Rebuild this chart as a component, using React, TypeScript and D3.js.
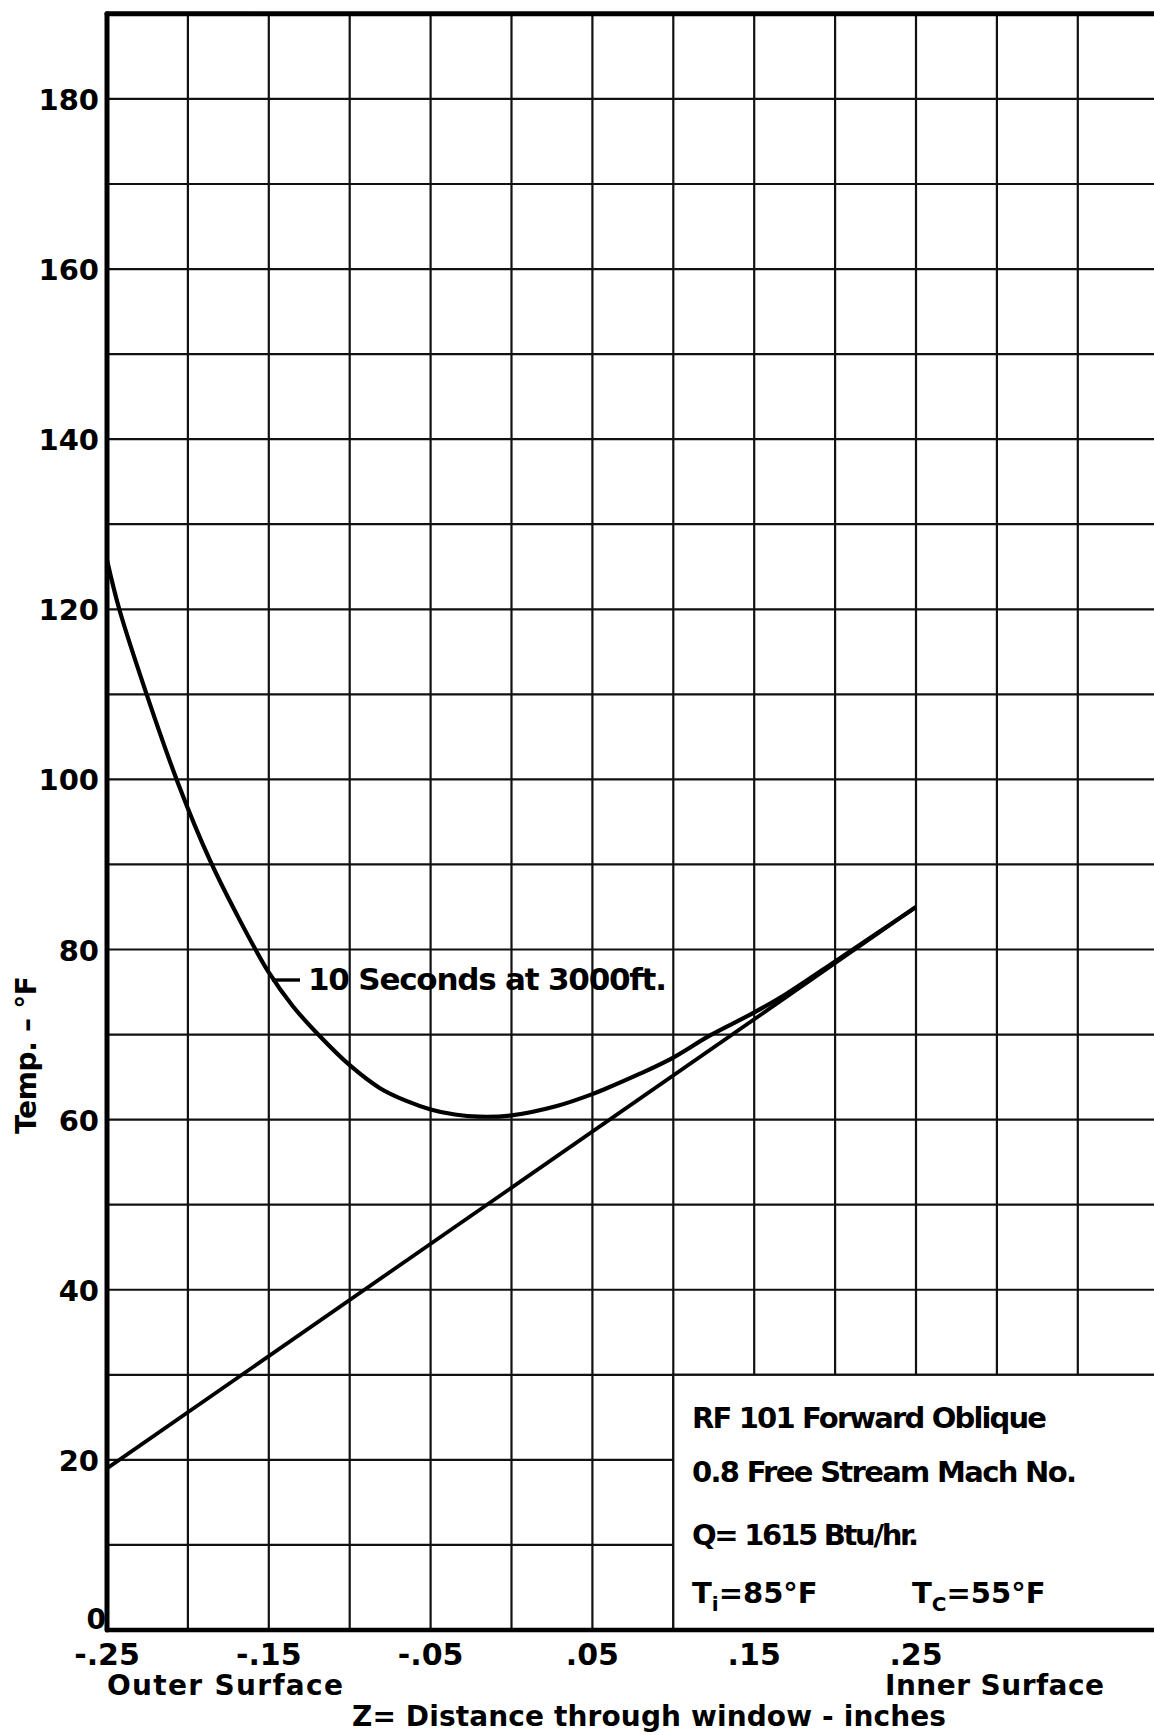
import React from "react";
import * as d3 from "d3";

// ---- data ----
const lineZ = [-0.25, 0.25];
const lineT = [19, 85];

const curveZ = [-0.25, -0.2424, -0.2255, -0.206, -0.1864, -0.17, -0.15, -0.135, -0.1184, -0.1, -0.0813, -0.065, -0.05, -0.035, -0.02, 0.0, 0.028, 0.05, 0.0578, 0.0794, 0.1, 0.1227, 0.15, 0.17, 0.2, 0.225, 0.25];
const curveT = [125.8, 120, 110, 99.5, 90.5, 84.2, 77.3, 73.3, 69.8, 66.4, 63.7, 62.2, 61.2, 60.6, 60.35, 60.5, 61.6, 63.0, 63.6, 65.4, 67.3, 69.9, 72.6, 74.8, 78.6, 81.8, 85];

const yTicks = [20, 40, 60, 80, 100, 120, 140, 160, 180];
const yTickLabels = ["20", "40", "60", "80", "100", "120", "140", "160", "180"];
const xTicks = [-0.25, -0.15, -0.05, 0.05, 0.15, 0.25];
const xTickLabels = ["-.25", "-.15", "-.05", ".05", ".15", ".25"];
const xGrid = [-0.2, -0.15, -0.1, -0.05, 0, 0.05, 0.1, 0.15, 0.2, 0.25, 0.3, 0.35];
const yGrid = [10, 20, 30, 40, 50, 60, 70, 80, 90, 100, 110, 120, 130, 140, 150, 160, 170, 180];

const curveLabel = "10 Seconds at 3000ft.";
const noteLines = ["RF 101 Forward  Oblique", "0.8 Free Stream Mach No.", "Q= 1615 Btu/hr."];

const W = 1154;
const H = 1735;
const FONT = "'DejaVu Sans', sans-serif";

export default function App() {
  const x = d3.scaleLinear().domain([-0.25, 0.4]).range([107, 107 + 0.65 * 1618]);
  const y = d3.scaleLinear().domain([0, 190]).range([1630, 1630 - 190 * 8.506]);

  const lineGen = d3
    .line<[number, number]>()
    .x((d) => x(d[0]))
    .y((d) => y(d[1]));
  const curveGen = d3
    .line<[number, number]>()
    .x((d) => x(d[0]))
    .y((d) => y(d[1]))
    .curve(d3.curveCatmullRom.alpha(0.5));

  const straight = lineZ.map((z, i) => [z, lineT[i]] as [number, number]);
  const curve = curveZ.map((z, i) => [z, curveT[i]] as [number, number]);

  const x0 = x(-0.25);
  const xR = W;
  const yTop = y(190);
  const yBot = y(0);

  return (
    <svg
      width={W}
      height={H}
      style={{ position: "absolute", left: 0, top: 0, background: "#fff" }}
      fontFamily={FONT}
    >
      <rect x={0} y={0} width={W} height={H} fill="#fff" />
      {/* grid */}
      <g stroke="#111" strokeWidth={2.2}>
        {xGrid.map((v) => (
          <line key={"vx" + v} x1={x(v)} x2={x(v)} y1={yTop} y2={yBot} />
        ))}
        {yGrid.map((v) => (
          <line key={"hy" + v} x1={x0} x2={xR} y1={y(v)} y2={y(v)} />
        ))}
      </g>
      {/* note box */}
      <rect
        x={x(0.1)}
        y={y(30)}
        width={xR - x(0.1) + 5}
        height={yBot - y(30)}
        fill="#fff"
        stroke="#111"
        strokeWidth={2.2}
      />
      {/* frame */}
      <g stroke="#000" strokeLinecap="round">
        <line x1={x0} x2={xR} y1={yTop} y2={yTop} strokeWidth={5} />
        <line x1={x0} x2={x0} y1={yTop} y2={yBot} strokeWidth={5} />
        <line x1={x0} x2={xR} y1={yBot} y2={yBot} strokeWidth={4.5} />
      </g>
      {/* data */}
      <path d={lineGen(straight) || ""} fill="none" stroke="#000" strokeWidth={3.8} />
      <path d={curveGen(curve) || ""} fill="none" stroke="#000" strokeWidth={4.2} strokeLinejoin="round" />
      {/* curve label */}
      <line x1={272} x2={300} y1={980} y2={980} stroke="#000" strokeWidth={3.4} />
      <text x={308} y={990} fontSize={31} fontWeight="bold" textLength={359} lengthAdjust="spacing">
        {curveLabel}
      </text>
      {/* y ticks */}
      <g fontSize={29} fontWeight="bold" textAnchor="end">
        {yTicks.map((v, i) => (
          <text key={"yt" + v} x={99} y={y(v) + 11}>
            {yTickLabels[i]}
          </text>
        ))}
        <text x={106} y={yBot - 1} fontSize={28}>
          0
        </text>
      </g>
      {/* x ticks */}
      <g fontSize={30} fontWeight="bold" textAnchor="middle">
        {xTicks.map((v, i) => (
          <text key={"xt" + v} x={x(v)} y={1665}>
            {xTickLabels[i]}
          </text>
        ))}
      </g>
      {/* axis titles */}
      <g fontWeight="bold" fontSize={28}>
        <text x={107} y={1695} textLength={236} lengthAdjust="spacing">
          Outer Surface
        </text>
        <text x={885} y={1695} textLength={219} lengthAdjust="spacing">
          Inner Surface
        </text>
        <text x={352} y={1726} textLength={594} lengthAdjust="spacing">
          Z= Distance through window - inches
        </text>
        <text
          transform="translate(36,1055) rotate(-90)"
          textAnchor="middle"
          textLength={158}
          lengthAdjust="spacing"
        >
          Temp. – °F
        </text>
      </g>
      {/* notes */}
      <g fontWeight="bold" fontSize={29}>
        <text x={692} y={1428} textLength={355} lengthAdjust="spacing">
          {noteLines[0]}
        </text>
        <text x={692} y={1482} textLength={385} lengthAdjust="spacing">
          {noteLines[1]}
        </text>
        <text x={692} y={1545} textLength={227} lengthAdjust="spacing">
          {noteLines[2]}
        </text>
        <text x={692} y={1603}>
          <tspan>T</tspan>
          <tspan dy={8} fontSize={20}>i</tspan>
          <tspan dy={-8}>=85°F</tspan>
        </text>
        <text x={912} y={1603}>
          <tspan>T</tspan>
          <tspan dy={8} fontSize={20}>C</tspan>
          <tspan dy={-8}>=55°F</tspan>
        </text>
      </g>
    </svg>
  );
}
